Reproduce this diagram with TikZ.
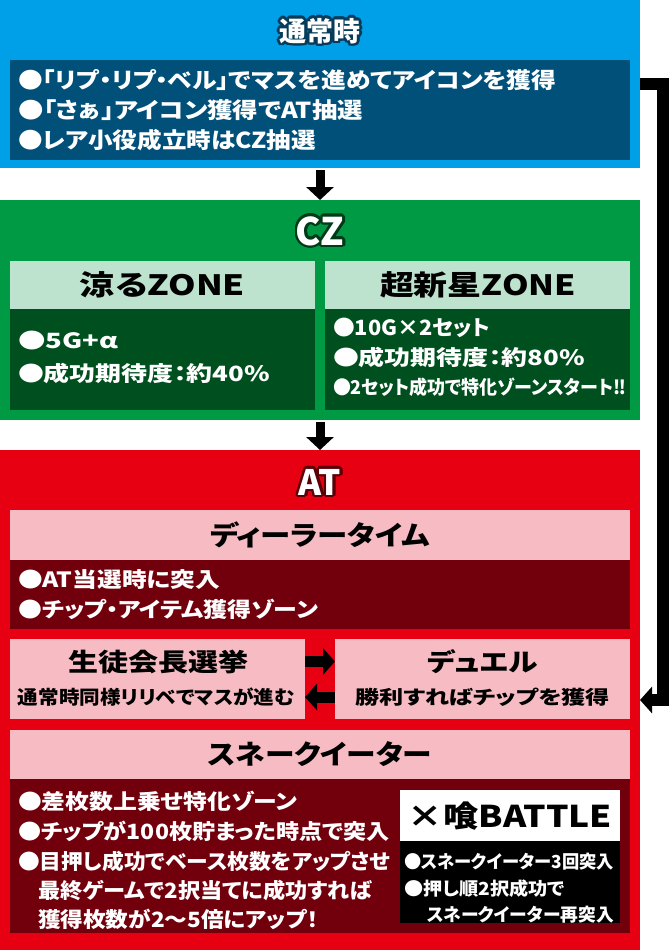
\documentclass[tikz,border=0pt]{standalone}
\usepackage{fontspec}
\setmainfont{Noto Sans CJK JP}[RawFeature=+palt]
\usepackage{graphicx}
\usetikzlibrary{arrows.meta}
\definecolor{cblue}{HTML}{00A0E9}
\definecolor{cdblue}{HTML}{00507A}
\definecolor{cblueol}{HTML}{063C5A}
\definecolor{cgreen}{HTML}{009944}
\definecolor{clgreen}{HTML}{BDE3CF}
\definecolor{cdgreen}{HTML}{00501F}
\definecolor{cgreenol}{HTML}{003A17}
\definecolor{cred}{HTML}{E60012}
\definecolor{cpink}{HTML}{F7BCC3}
\definecolor{cdred}{HTML}{72000C}
\definecolor{credol}{HTML}{5A0006}
\newcommand\tw[2]{\resizebox{#1pt}{\height}{#2}}
\newcommand\fsz[1]{\fontsize{#1}{#1}\selectfont\bfseries}
\newcommand\olc[2]{\rlap{\hspace*{#1}\raisebox{#2}{\copy0}}}
\newcommand\outl[2]{\setbox0\hbox{#2}\leavevmode\rlap{\color{#1}\olc{2.6pt}{0pt}\olc{-2.6pt}{0pt}\olc{0pt}{2.6pt}\olc{0pt}{-2.6pt}\olc{1.85pt}{1.85pt}\olc{-1.85pt}{1.85pt}\olc{1.85pt}{-1.85pt}\olc{-1.85pt}{-1.85pt}\olc{2.4pt}{1pt}\olc{-2.4pt}{1pt}\olc{2.4pt}{-1pt}\olc{-2.4pt}{-1pt}\olc{1pt}{2.4pt}\olc{-1pt}{2.4pt}\olc{1pt}{-2.4pt}\olc{-1pt}{-2.4pt}}\box0}
\begin{document}
\begin{tikzpicture}[x=1pt,y=-1pt,
  bx/.style={anchor=north west,inner sep=0pt,outer sep=0pt,draw=none},
  tl/.style={anchor=west,inner sep=0pt,outer sep=0pt},
  tc/.style={anchor=center,inner sep=0pt,outer sep=0pt},
  downarr/.style={draw=black,line width=9pt,-{Triangle[width=27pt,length=13pt]}},
  sidearr/.style={draw=black,line width=11pt,-{Triangle[width=26pt,length=12pt]}},
  looparr/.style={draw=black,line width=12.5pt,line join=miter,-{Triangle[width=26pt,length=12pt]}}]
\useasboundingbox (0,0) rectangle (670,950);
% ---- normal
\node[bx,fill=cblue,minimum width=640pt,minimum height=168pt] (normal) at (0,0) {};
\node[bx,fill=cdblue,minimum width=620pt,minimum height=100pt] (normalbody) at (10,60) {};
\node[tc,text=white] (normaltitle) at (320,31) {\fsz{27}\outl{cblueol}{通常時}};
\node[tl,text=white] (n1) at (18,80) {\fsz{22}\tw{538}{●「リプ・リプ・ベル」でマスを進めてアイコンを獲得}};
\node[tl,text=white] (n2) at (18,110) {\fsz{22}\tw{345}{●「さぁ」アイコン獲得でAT抽選}};
\node[tl,text=white] (n3) at (18,140) {\fsz{22}\tw{298}{●レア小役成立時はCZ抽選}};
% ---- CZ
\node[bx,fill=cgreen,minimum width=640pt,minimum height=220pt] (cz) at (0,200) {};
\node[tc,text=white] (cztitle) at (320,231) {\fsz{38}\outl{cgreenol}{CZ}};
\node[bx,fill=clgreen,minimum width=305pt,minimum height=48pt] (ryohead) at (10,261) {};
\node[tc] (ryotitle) at (162.5,285) {\fsz{28}\tw{165}{涼るZONE}};
\node[bx,fill=cdgreen,minimum width=305pt,minimum height=101pt] (ryobody) at (10,309) {};
\node[tl,text=white] (r1) at (18,341) {\fsz{21}\tw{100}{●5G+\textit{α}}};
\node[tl,text=white] (r2) at (18,373) {\fsz{21}\tw{252}{●成功期待度：約40\%}};
\node[bx,fill=clgreen,minimum width=305pt,minimum height=48pt] (shinhead) at (325,261) {};
\node[tc] (shintitle) at (478,285) {\fsz{28}\tw{196}{超新星ZONE}};
\node[bx,fill=cdgreen,minimum width=305pt,minimum height=101pt] (shinbody) at (325,309) {};
\node[tl,text=white] (s1) at (333,328) {\fsz{21}\tw{157}{●10G×2セット}};
\node[tl,text=white] (s2) at (333,357) {\fsz{21}\tw{252}{●成功期待度：約80\%}};
\node[tl,text=white] (s3) at (333,387) {\fsz{19}\tw{293}{●2セット成功で特化ゾーンスタート‼}};
% ---- AT
\node[bx,fill=cred,minimum width=640pt,minimum height=500pt] (at) at (0,450) {};
\node[tc,text=white] (attitle) at (320,482) {\fsz{35}\outl{credol}{AT}};
\node[bx,fill=cpink,minimum width=620pt,minimum height=50pt] (dealhead) at (10,510) {};
\node[tc] (dealtitle) at (320,535) {\fsz{27}\tw{220}{ディーラータイム}};
\node[bx,fill=cdred,minimum width=620pt,minimum height=69pt] (dealbody) at (10,560) {};
\node[tl,text=white] (d1) at (18,579) {\fsz{21}\tw{202}{●AT当選時に突入}};
\node[tl,text=white] (d2) at (18,609) {\fsz{21}\tw{300}{●チップ・アイテム獲得ゾーン}};
\node[bx,fill=cpink,minimum width=295pt,minimum height=80pt] (seito) at (10,639) {};
\node[tc] (seitotitle) at (158,662) {\fsz{25}\tw{180}{生徒会長選挙}};
\node[tc] (seitosub) at (156.5,697) {\fsz{19}\tw{277}{通常時同様リリベでマスが進む}};
\node[bx,fill=cpink,minimum width=295pt,minimum height=80pt] (duel) at (335,639) {};
\node[tc] (dueltitle) at (482.5,662) {\fsz{25}\tw{111}{デュエル}};
\node[tc] (duelsub) at (482.5,697) {\fsz{19}\tw{255}{勝利すればチップを獲得}};
\node[bx,fill=cpink,minimum width=620pt,minimum height=49pt] (snakehead) at (10,730) {};
\node[tc] (snaketitle) at (320,754) {\fsz{27}\tw{224}{スネークイーター}};
\node[bx,fill=cdred,minimum width=620pt,minimum height=154pt] (snakebody) at (10,779) {};
\node[tl,text=white] (k1) at (18,801) {\fsz{21}\tw{279}{●差枚数上乗せ特化ゾーン}};
\node[tl,text=white] (k2) at (18,831) {\fsz{21}\tw{372}{●チップが100枚貯まった時点で突入}};
\node[tl,text=white] (k3) at (18,861) {\fsz{21}\tw{372}{●目押し成功でベース枚数をアップさせ}};
\node[tl,text=white] (k4) at (38,890) {\fsz{21}\tw{334}{最終ゲームで2択当てに成功すれば}};
\node[tl,text=white] (k5) at (38,919) {\fsz{21}\tw{280}{獲得枚数が2〜5倍にアップ！}};
\node[bx,fill=white,minimum width=220pt,minimum height=51pt] (battlehead) at (400,790) {};
\node[tc] (battletitle) at (510,816) {\fsz{30}\tw{204}{×喰BATTLE}};
\node[bx,fill=black,minimum width=220pt,minimum height=82pt] (battlebody) at (400,841) {};
\node[tl,text=white] (b1) at (404,862) {\fsz{18}\tw{210}{●スネークイーター3回突入}};
\node[tl,text=white] (b2) at (404,889) {\fsz{18}\tw{161}{●押し順2択成功で}};
\node[tl,text=white] (b3) at (427,915) {\fsz{18}\tw{187}{スネークイーター再突入}};
% ---- connectors
\draw[downarr] ([yshift=-2pt]normal.south) -- (cz.north);
\draw[downarr] ([yshift=-2pt]cz.south) -- (at.north);
\draw[sidearr] ([yshift=17.5pt]seito.east) -- ([yshift=17.5pt]duel.west);
\draw[sidearr] ([yshift=-18pt]duel.west) -- ([yshift=-18pt]seito.east);
\draw[looparr] (normal.east) -- ++(23,0) |- (at.east);
\end{tikzpicture}
\end{document}
